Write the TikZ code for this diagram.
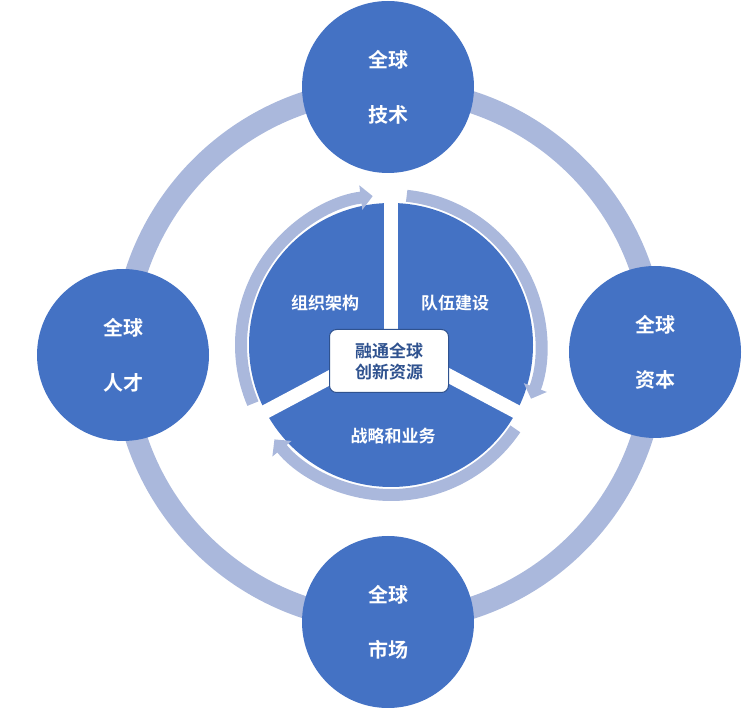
\documentclass[tikz,border=0pt]{standalone}
\usepackage{fontspec}
\newfontfamily\cjk{Noto Sans CJK SC}[BoldFont={Noto Sans CJK SC Bold}]
\usetikzlibrary{arrows.meta}
\definecolor{dblue}{HTML}{4472C4}
\definecolor{lblue}{HTML}{AAB8DC}
\definecolor{tblue}{HTML}{2F528F}
\tikzset{
 big/.style={circle,fill=dblue,minimum size=172pt,inner sep=0pt,text=white,font=\cjk\bfseries\fontsize{20}{55}\selectfont,align=center},
 lab/.style={text=white,font=\cjk\bfseries\fontsize{17}{20}\selectfont},
 ring/.style={lblue,line width=12pt,-{Triangle[width=24pt,length=12pt]}},
}
\begin{document}
\begin{tikzpicture}[x=1pt,y=-1pt]
\useasboundingbox (0,0) rectangle (753,708);
\coordinate (O) at (389,355);
\draw[lblue,line width=22pt] (O) circle[radius=266];
\node[big] (t) at (388,87) {全球\\技术};
\node[big] (b) at (388,622) {全球\\市场};
\node[big] (l) at (123,355) {全球\\人才};
\node[big] (r) at (655,352) {全球\\资本};
\coordinate (C) at (391,345);
\fill[dblue] (C) circle[radius=142];
\foreach \a in {90,-28,208} \draw[white,line width=14pt] (C) -- ++({\a}:{-160});
\begin{scope}[y=1pt]
\draw[ring] ([shift={(203:150)}]C) arc[start angle=203,end angle=97,radius=150];
\draw[ring] ([shift={(84:150)}]C) arc[start angle=84,end angle=-21,radius=150];
\draw[ring] ([shift={(-34:150)}]C) arc[start angle=-34,end angle=-141,radius=150];
\draw[white,line width=14pt] (C) -- ++(90:160);
\end{scope}
\node[lab] (a1) at (325,303) {组织架构};
\node[lab] (a2) at (455,303) {队伍建设};
\node[lab] (a3) at (393,436) {战略和业务};
\node[draw=tblue,fill=white,rounded corners=7pt,line width=1pt,minimum width=119pt,minimum height=63pt,align=center,text=tblue,font=\cjk\bfseries\fontsize{17}{21}\selectfont] (c) at (389,361) {融通全球\\创新资源};
\end{tikzpicture}
\end{document}
